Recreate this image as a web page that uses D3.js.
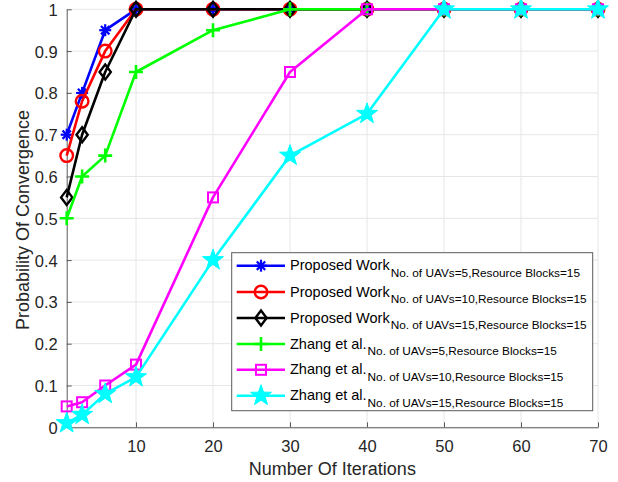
<!DOCTYPE html>
<html><head><meta charset="utf-8">
<script src="https://cdn.jsdelivr.net/npm/d3@7"></script>
<style>body{margin:0;background:#fff;} svg{display:block;font-family:"Liberation Sans",Arial,sans-serif;}</style>
</head><body><svg id="c" width="618" height="482"></svg>
<script>
const iterations = [1, 3, 6, 10, 20, 30, 40, 50, 60, 70];
const proposedUav5  = [0.70, 0.80, 0.95, 1, 1, 1, 1, 1, 1, 1];
const proposedUav10 = [0.65, 0.78, 0.90, 1, 1, 1, 1, 1, 1, 1];
const proposedUav15 = [0.55, 0.70, 0.85, 1, 1, 1, 1, 1, 1, 1];
const zhangUav5     = [0.50, 0.60, 0.65, 0.85, 0.95, 1, 1, 1, 1, 1];
const zhangUav10    = [0.05, 0.06, 0.10, 0.15, 0.55, 0.85, 1, 1, 1, 1];
const zhangUav15    = [0.01, 0.03, 0.08, 0.12, 0.40, 0.65, 0.75, 1, 1, 1];
const seriesNames = ["Proposed Work", "Proposed Work", "Proposed Work", "Zhang et al.", "Zhang et al.", "Zhang et al."];
const seriesSubs = ["No. of UAVs=5,Resource Blocks=15", "No. of UAVs=10,Resource Blocks=15", "No. of UAVs=15,Resource Blocks=15",
                    "No. of UAVs=5,Resource Blocks=15", "No. of UAVs=10,Resource Blocks=15", "No. of UAVs=15,Resource Blocks=15"];
const seriesColors = ["#0000ff", "#ff0000", "#000000", "#00ff00", "#ff00ff", "#00ffff"];
const seriesMarkers = ["asterisk", "circle", "diamond", "plus", "square", "pentagram"];
const xTicks = [10, 20, 30, 40, 50, 60, 70];
const yTicks = [0, 0.1, 0.2, 0.3, 0.4, 0.5, 0.6, 0.7, 0.8, 0.9, 1];
const xLabel = "Number Of Iterations";
const yLabel = "Probability Of Convergence";

const seriesValues = [proposedUav5, proposedUav10, proposedUav15, zhangUav5, zhangUav10, zhangUav15];

const svg = d3.select("#c");
const L = 66.7, R = 598, T = 9.3, B = 427.3;
const x = d3.scaleLinear().domain([1, 70]).range([L, R]);
const y = d3.scaleLinear().domain([0, 1]).range([B, T]);

// grid
const g = svg.append("g");
g.selectAll(".gx").data(xTicks).join("line")
  .attr("x1", d => x(d)).attr("x2", d => x(d)).attr("y1", T).attr("y2", B)
  .attr("stroke", "#e6e6e6").attr("stroke-width", 1);
g.selectAll(".gy").data(yTicks).join("line")
  .attr("x1", L).attr("x2", R).attr("y1", d => y(d)).attr("y2", d => y(d))
  .attr("stroke", "#e6e6e6").attr("stroke-width", 1);

// axes
const axCol = "#262626";
const xAxis = svg.append("g").attr("transform", `translate(0,${B})`)
  .call(d3.axisBottom(x).tickValues(xTicks).tickSizeInner(-5).tickSizeOuter(0).tickPadding(13));
const yAxis = svg.append("g").attr("transform", `translate(${L},0)`)
  .call(d3.axisLeft(y).tickValues(yTicks).tickFormat(d => d3.format("~g")(d)).tickSizeInner(-5).tickSizeOuter(0).tickPadding(9));
[xAxis, yAxis].forEach(a => {
  a.select(".domain").attr("stroke", "#5a5a5a").attr("stroke-width", 1);
  a.selectAll(".tick line").attr("stroke", "#5a5a5a");
  a.selectAll(".tick text").attr("fill", axCol).style("font-size", "16.5px").style("font-family", "'Liberation Sans',Arial,sans-serif");
});
xAxis.selectAll(".tick text").attr("dy", "0.71em");
yAxis.selectAll(".tick text").attr("dy", "0.36em");

svg.append("text").attr("x", (L + R) / 2).attr("y", 475).attr("text-anchor", "middle")
  .attr("fill", axCol).style("font-size", "18px").text(xLabel);
svg.append("text").attr("transform", `translate(29,220) rotate(-90)`).attr("text-anchor", "middle")
  .attr("fill", axCol).style("font-size", "18px").text(yLabel);

function drawMarker(sel, type, color, cx, cy) {
  const gm = sel.append("g").attr("transform", `translate(${cx},${cy})`);
  const sw = 2.2;
  if (type === "asterisk") {
    const r = 6;
    [[-r,0,r,0],[0,-r,0,r],[-r*0.7,-r*0.7,r*0.7,r*0.7],[-r*0.7,r*0.7,r*0.7,-r*0.7]].forEach(s =>
      gm.append("line").attr("x1", s[0]).attr("y1", s[1]).attr("x2", s[2]).attr("y2", s[3]).attr("stroke", color).attr("stroke-width", sw));
  } else if (type === "circle") {
    gm.append("circle").attr("r", 6.3).attr("fill", "none").attr("stroke", color).attr("stroke-width", 2.4);
  } else if (type === "diamond") {
    const r = 7.5;
    gm.append("path").attr("d", `M0,${-r}L${r*0.75},0L0,${r}L${-r*0.75},0Z`).attr("fill", "none").attr("stroke", color).attr("stroke-width", 2.4);
  } else if (type === "plus") {
    const r = 7;
    gm.append("path").attr("d", `M${-r},0H${r}M0,${-r}V${r}`).attr("stroke", color).attr("stroke-width", 2.6);
  } else if (type === "square") {
    const r = 5;
    gm.append("rect").attr("x", -r).attr("y", -r).attr("width", 2*r).attr("height", 2*r).attr("fill", "none").attr("stroke", color).attr("stroke-width", 2);
  } else if (type === "pentagram") {
    const ro = 11, ri = 4.4;
    const pts = d3.range(10).map(i => {
      const a = -Math.PI / 2 + i * Math.PI / 5;
      const rr = i % 2 === 0 ? ro : ri;
      return [rr * Math.cos(a), rr * Math.sin(a)];
    });
    gm.append("path").attr("d", "M" + pts.map(p => p.join(",")).join("L") + "Z").attr("fill", color).attr("stroke", color).attr("stroke-width", 1);
  }
}

const line = d3.line().x(d => x(d[0])).y(d => y(d[1]));
seriesValues.forEach((vals, i) => {
  const pts = iterations.map((it, j) => [it, vals[j]]);
  const sg = svg.append("g");
  sg.append("path").attr("d", line(pts)).attr("fill", "none").attr("stroke", seriesColors[i])
    .attr("stroke-width", 2.6).attr("stroke-linejoin", "round");
  pts.forEach(p => drawMarker(sg, seriesMarkers[i], seriesColors[i], x(p[0]), y(p[1])));
});

// legend
const lx = 231.7, ly = 252.7, lw = 361, lh = 158;
const lg = svg.append("g");
lg.append("rect").attr("x", lx).attr("y", ly).attr("width", lw).attr("height", lh)
  .attr("fill", "#fff").attr("stroke", "#5a5a5a").attr("stroke-width", 1);
const rowY = [265.7, 292.0, 318.0, 344.0, 369.8, 395.7];
seriesNames.forEach((nm, i) => {
  const cy = rowY[i];
  lg.append("line").attr("x1", 236.7).attr("x2", 285).attr("y1", cy).attr("y2", cy)
    .attr("stroke", seriesColors[i]).attr("stroke-width", 2.6);
  drawMarker(lg, seriesMarkers[i], seriesColors[i], 261, cy);
  const t = lg.append("text").attr("x", 290).attr("y", cy + 4.5).attr("fill", "#000").style("font-size", "14.5px");
  t.append("tspan").text(nm);
  t.append("tspan").attr("dx", 1).attr("dy", 6.5).style("font-size", "11.8px").text(seriesSubs[i]);
});
</script></body></html>
